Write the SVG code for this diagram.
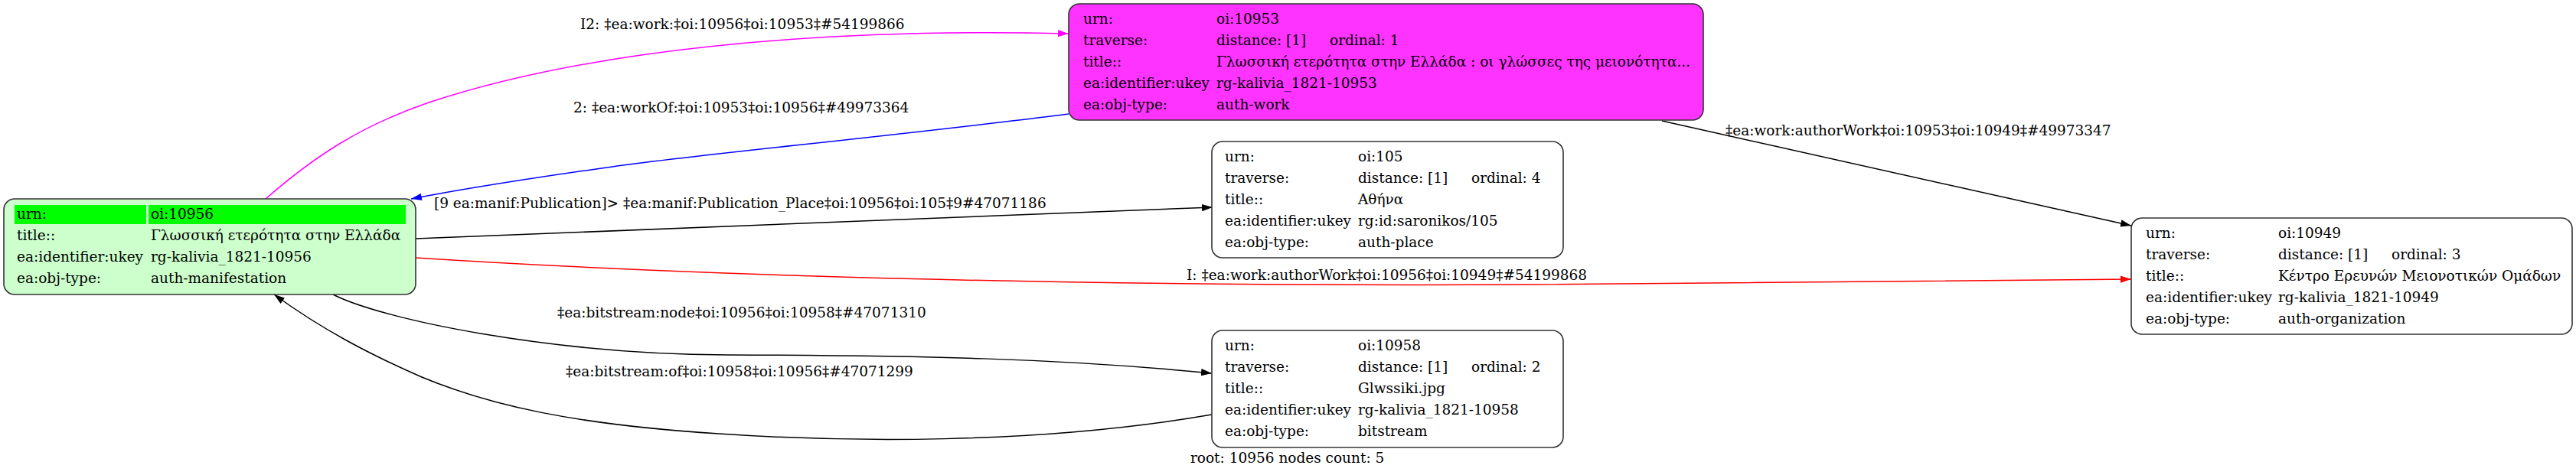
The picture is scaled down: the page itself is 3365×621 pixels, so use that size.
<svg xmlns="http://www.w3.org/2000/svg" width="3365" height="621" viewBox="0 0 3365 621">
<style>
.t{font-family:"DejaVu Serif","Liberation Serif",serif;font-size:18.5px;fill:#000}
.box{stroke:#333;stroke-width:1.6}
.e{fill:none;stroke-width:1.5}
</style>
<defs>
<marker id="ak" markerUnits="userSpaceOnUse" markerWidth="15" markerHeight="11" refX="14" refY="5.5" orient="auto"><path d="M0,0.8 L14,5.5 L0,10.2 z" fill="#000"/></marker>
<marker id="am" markerUnits="userSpaceOnUse" markerWidth="15" markerHeight="11" refX="14" refY="5.5" orient="auto"><path d="M0,0.8 L14,5.5 L0,10.2 z" fill="#ff00ff"/></marker>
<marker id="ab" markerUnits="userSpaceOnUse" markerWidth="15" markerHeight="11" refX="14" refY="5.5" orient="auto"><path d="M0,0.8 L14,5.5 L0,10.2 z" fill="#0000ff"/></marker>
<marker id="ar" markerUnits="userSpaceOnUse" markerWidth="15" markerHeight="11" refX="14" refY="5.5" orient="auto"><path d="M0,0.8 L14,5.5 L0,10.2 z" fill="#ff0000"/></marker>
</defs>
<rect width="3365" height="621" fill="#fff"/>

<g id="connectors">
<path class="e" stroke="#ff00ff" marker-end="url(#am)" d="M347,260 C410,205 470,165 560,134 C760,68 1050,36 1396,44"/>
<path class="e" stroke="#0000ff" marker-end="url(#ab)" d="M1396,149 C1150,180 900,203 800,218 C700,232 600,248 537,260"/>
<path class="e" stroke="#000" marker-end="url(#ak)" d="M543,312 L1584,271"/>
<path class="e" stroke="#ff0000" marker-end="url(#ar)" d="M543,337 C900,360 1400,375 2000,372 C2400,370 2600,366 2784,365"/>
<path class="e" stroke="#000" marker-end="url(#ak)" d="M2171,158 L2784,295"/>
<path class="e" stroke="#000" marker-end="url(#ak)" d="M435,385 C500,418 720,463 950,464 C1200,465 1380,468 1583,488"/>
<path class="e" stroke="#000" marker-end="url(#ak)" d="M1583,542 C1350,582 1100,578 939,567 C750,555 640,530 551,493 C480,462 420,430 358,385"/>
<text class="t" x="758" y="38">I2: ‡ea:work:‡oi:10956‡oi:10953‡#54199866</text>
<text class="t" x="749" y="147">2: ‡ea:workOf:‡oi:10953‡oi:10956‡#49973364</text>
<text class="t" x="567" y="272">[9 ea:manif:Publication]&gt; ‡ea:manif:Publication_Place‡oi:10956‡oi:105‡9#47071186</text>
<text class="t" x="2254" y="177">‡ea:work:authorWork‡oi:10953‡oi:10949‡#49973347</text>
<text class="t" x="1550" y="366">I: ‡ea:work:authorWork‡oi:10956‡oi:10949‡#54199868</text>
<text class="t" x="728" y="415">‡ea:bitstream:node‡oi:10956‡oi:10958‡#47071310</text>
<text class="t" x="739" y="492">‡ea:bitstream:of‡oi:10958‡oi:10956‡#47071299</text>
</g>

<g id="node-10956">
<rect class="box" x="5" y="260" width="538" height="125" rx="14" fill="#ccffcc"/>
<rect x="19" y="268" width="172" height="25" fill="#00ff00"/>
<rect x="194" y="268" width="336" height="25" fill="#00ff00"/>
<text class="t" x="22" y="286">urn:</text><text class="t" x="197" y="286">oi:10956</text>
<text class="t" x="22" y="314">title::</text><text class="t" x="197" y="314">Γλωσσική ετερότητα στην Ελλάδα</text>
<text class="t" x="22" y="342">ea:identifier:ukey</text><text class="t" x="197" y="342">rg-kalivia_1821-10956</text>
<text class="t" x="22" y="370">ea:obj-type:</text><text class="t" x="197" y="370">auth-manifestation</text>
</g>

<g id="node-10953">
<rect class="box" x="1396" y="5" width="829" height="152" rx="14" fill="#ff33ff"/>
<text class="t" x="1415" y="31">urn:</text><text class="t" x="1589" y="31">oi:10953</text>
<text class="t" x="1415" y="59">traverse:</text><text class="t" x="1589" y="59">distance: [1]</text><text class="t" x="1737" y="59">ordinal: 1</text>
<text class="t" x="1415" y="87">title::</text><text class="t" x="1589" y="87">Γλωσσική ετερότητα στην Ελλάδα : οι γλώσσες της μειονότητα...</text>
<text class="t" x="1415" y="115">ea:identifier:ukey</text><text class="t" x="1589" y="115">rg-kalivia_1821-10953</text>
<text class="t" x="1415" y="143">ea:obj-type:</text><text class="t" x="1589" y="143">auth-work</text>
</g>

<g id="node-105">
<rect class="box" x="1583" y="185" width="459" height="152" rx="14" fill="#fff"/>
<text class="t" x="1600" y="211">urn:</text><text class="t" x="1774" y="211">oi:105</text>
<text class="t" x="1600" y="239">traverse:</text><text class="t" x="1774" y="239">distance: [1]</text><text class="t" x="1922" y="239">ordinal: 4</text>
<text class="t" x="1600" y="267">title::</text><text class="t" x="1774" y="267">Αθήνα</text>
<text class="t" x="1600" y="295">ea:identifier:ukey</text><text class="t" x="1774" y="295">rg:id:saronikos/105</text>
<text class="t" x="1600" y="323">ea:obj-type:</text><text class="t" x="1774" y="323">auth-place</text>
</g>

<g id="node-10958">
<rect class="box" x="1583" y="432" width="459" height="153" rx="14" fill="#fff"/>
<text class="t" x="1600" y="458">urn:</text><text class="t" x="1774" y="458">oi:10958</text>
<text class="t" x="1600" y="486">traverse:</text><text class="t" x="1774" y="486">distance: [1]</text><text class="t" x="1922" y="486">ordinal: 2</text>
<text class="t" x="1600" y="514">title::</text><text class="t" x="1774" y="514">Glwssiki.jpg</text>
<text class="t" x="1600" y="542">ea:identifier:ukey</text><text class="t" x="1774" y="542">rg-kalivia_1821-10958</text>
<text class="t" x="1600" y="570">ea:obj-type:</text><text class="t" x="1774" y="570">bitstream</text>
</g>

<g id="node-10949">
<rect class="box" x="2784" y="285" width="576" height="152" rx="14" fill="#fff"/>
<text class="t" x="2803" y="311">urn:</text><text class="t" x="2976" y="311">oi:10949</text>
<text class="t" x="2803" y="339">traverse:</text><text class="t" x="2976" y="339">distance: [1]</text><text class="t" x="3124" y="339">ordinal: 3</text>
<text class="t" x="2803" y="367">title::</text><text class="t" x="2976" y="367">Κέντρο Ερευνών Μειονοτικών Ομάδων</text>
<text class="t" x="2803" y="395">ea:identifier:ukey</text><text class="t" x="2976" y="395">rg-kalivia_1821-10949</text>
<text class="t" x="2803" y="423">ea:obj-type:</text><text class="t" x="2976" y="423">auth-organization</text>
</g>

<g id="footer">
<text class="t" x="1555" y="605">root: 10956 nodes count: 5</text>
</g>
</svg>
